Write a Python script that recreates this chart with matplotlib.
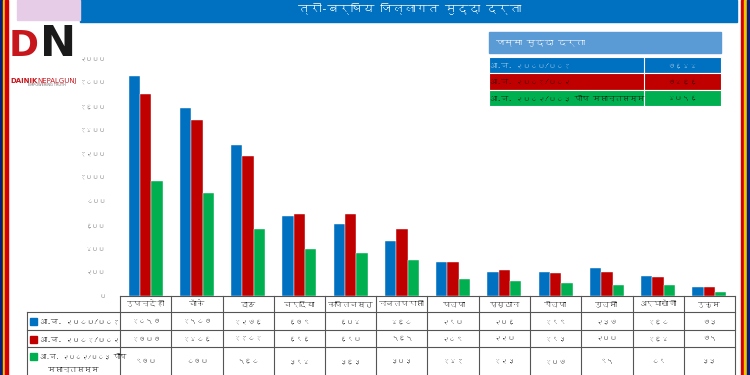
#!/usr/bin/env python3
import matplotlib
matplotlib.use("Agg")
import matplotlib.pyplot as plt
import matplotlib.transforms as mtransforms
from matplotlib import font_manager
from matplotlib.ft2font import FT2Font
from matplotlib.lines import Line2D
from matplotlib.patches import Rectangle
import numpy as np

districts = ["रुपन्देही", "बाँके", "दाङ", "बर्दिया", "कपिलबस्तु", "नवलपरासी",
             "पाल्पा", "प्युठान", "रोल्पा", "गुल्मी", "अर्घाखाँची", "रुकुम"]
fy_2080 = [1857, 1587, 1276, 679, 604, 468, 290, 206, 199, 237, 168, 73]
fy_2081 = [1707, 1486, 1181, 696, 690, 565, 289, 220, 193, 200, 164, 75]
fy_2082 = [970, 870, 568, 394, 363, 303, 141, 123, 107, 95, 89, 33]
series_labels = ["आ.व. २०८०/०८१", "आ.व. २०८१/०८२", "आ.व. २०८२/०८३ पौष मसान्तसम्म"]
colors = ["#0070C0", "#C00000", "#00B050"]
yticks = list(range(0, 2001, 200))
title = "त्री-बर्षिय जिल्लागत मुद्दा दर्ता"
summary_title = "जम्मा मुद्दा दर्ता"

W, H = 750, 375


def deva_font():
    for f in font_manager.fontManager.ttflist:
        try:
            if 0x0915 in FT2Font(f.fname).get_charmap():
                return f.name
        except Exception:
            continue
    return None


fam = deva_font()
plt.rcParams["font.family"] = ([fam] if fam else []) + ["DejaVu Sans"]

DIG = str.maketrans("0123456789", "०१२३४५६७८९")


def ne(n):
    return str(n).translate(DIG)


def px(x, y):
    return x / W, 1 - y / H


fig = plt.figure(figsize=(W / 100, H / 100), dpi=100, facecolor="white")
x0, x1, ytop, ybot = 120, 735, 59, 296
ax = fig.add_axes([x0 / W, 1 - ybot / H, (x1 - x0) / W, (ybot - ytop) / H])

x = np.arange(len(districts))
bw = 0.22
for k, vals in enumerate([fy_2080, fy_2081, fy_2082]):
    ax.bar(x + (k - 1) * bw, vals, width=bw, color=colors[k], edgecolor="white", linewidth=0.3)
ax.set_xlim(-0.5, len(districts) - 0.5)
ax.set_ylim(0, 2000)
ax.set_yticks(yticks)
ax.set_yticklabels([ne(t) for t in yticks], fontsize=4.8, color="#666666")
ax.tick_params(axis="y", length=0, pad=10)
ax.set_xticks([])
for s in ax.spines.values():
    s.set_visible(False)

# data table under the chart
blend = mtransforms.blended_transform_factory(ax.transData, fig.transFigure)
lc = "#555555"


def hline(xa, xb, y):
    fig.add_artist(Line2D([xa / W, xb / W], [1 - y / H] * 2, color=lc, lw=0.8))


def vline(xv, ya, yb):
    fig.add_artist(Line2D([xv / W] * 2, [1 - ya / H, 1 - yb / H], color=lc, lw=0.8))


rows_y = [296, 312, 330, 347, 378]
hline(x0, x1, rows_y[0])
for y in rows_y[1:4]:
    hline(27, x1, y)
vline(27, rows_y[1], 375)
colw = (x1 - x0) / len(districts)
for i in range(len(districts) + 1):
    vline(x0 + i * colw, rows_y[0], 375)

for i, d in enumerate(districts):
    fig.text(i, 1 - 304 / H, d, transform=blend, ha="center", va="center", fontsize=5.5, color="#222222")
for r, vals in enumerate([fy_2080, fy_2081, fy_2082]):
    yc = (rows_y[r + 1] + min(rows_y[r + 2], 375)) / 2
    for i, v in enumerate(vals):
        fig.text(i, 1 - yc / H, ne(v), transform=blend, ha="center", va="center", fontsize=5.3, color="#222222")

label_y = [321, 339, 356]
for r in range(3):
    fig.add_artist(Rectangle(px(30, label_y[r] + 3.5), 7 / W, 7 / H, transform=fig.transFigure,
                             color=colors[r]))
fig.text(*px(40, 321), series_labels[0], ha="left", va="center", fontsize=5.2, color="#111111")
fig.text(*px(40, 339), series_labels[1], ha="left", va="center", fontsize=5.2, color="#111111")
fig.text(*px(40, 356), "आ.व. २०८२/०८३ पौष", ha="left", va="center", fontsize=4.6, color="#111111")
fig.text(*px(73, 369), "मसान्तसम्म", ha="center", va="center", fontsize=5.2, color="#111111")

# title bar
fig.add_artist(Rectangle(px(80, 22), (737 - 80) / W, 22 / H, transform=fig.transFigure, color="#0070C0"))
fig.text(*px(410, 8), title, ha="center", va="center", fontsize=8.5, color="white", fontweight="bold")

# summary box
sx0, sx1, sxm = 489, 721, 644
fig.add_artist(Rectangle(px(sx0, 53), (sx1 - sx0) / W, 21 / H, transform=fig.transFigure, color="#5B9BD5"))
fig.text(*px(sx0 + 6, 42.5), summary_title, ha="left", va="center", fontsize=6.5, color="white")
box_rows = [(57, 73), (73, 90), (90, 106)]
text_cols = ["#BDD7EE", "#2a0000", "#0a1a0a"]
for r, (ya, yb) in enumerate(box_rows):
    fig.add_artist(Rectangle(px(sx0, yb), (sx1 - sx0) / W, (yb - ya) / H, transform=fig.transFigure,
                             color=colors[r], ec="white", lw=0.8))
    fig.add_artist(Line2D([sxm / W] * 2, [1 - ya / H, 1 - yb / H], color="white", lw=0.8))
    fig.text(*px(sx0 + 1, (ya + yb) / 2), series_labels[r], ha="left", va="center", fontsize=5.3,
             color=text_cols[r])
    total = sum([fy_2080, fy_2081, fy_2082][r])
    fig.text(*px((sxm + sx1) / 2, (ya + yb) / 2), ne(total), ha="center", va="center", fontsize=5.5,
             color=text_cols[r])

# side stripes
for xs, c in [(0, "#0d1b7a"), (2.5, "#f5c400"), (5, "#d40000"),
              (741, "#d40000"), (744, "#f5c400"), (746.5, "#0d1b7a")]:
    fig.add_artist(Rectangle((xs / W, 0), 2.5 / W, 1, transform=fig.transFigure, color=c))

# logo
fig.add_artist(Rectangle(px(17, 20), 63 / W, 20 / H, transform=fig.transFigure, color="#e6cce6"))
fig.text(*px(24, 46), "D", ha="center", va="center", fontsize=26, color="#c8161d", fontweight="bold",
         family="DejaVu Sans")
fig.text(*px(58, 44), "N", ha="center", va="center", fontsize=31, color="#1a1a1a", fontweight="bold",
         family="DejaVu Sans")
fig.text(*px(10, 81), "DAINIK", ha="left", va="center", fontsize=5, color="#c8161d", fontweight="bold",
         family="DejaVu Sans")
fig.text(*px(37, 81), "NEPALGUNJ", ha="left", va="center", fontsize=5, color="#c8161d",
         family="DejaVu Sans")
fig.text(*px(47, 85.5), "EMPOWERING TRUTH", ha="center", va="center", fontsize=2.5, color="#666666",
         family="DejaVu Sans")

fig.savefig("out.png", dpi=100, facecolor="white")
